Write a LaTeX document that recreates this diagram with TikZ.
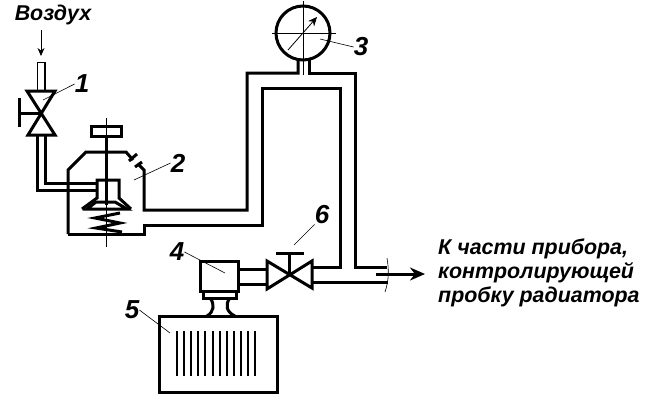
\documentclass[tikz,border=0pt]{standalone}
\usepackage{fontspec}
\setmainfont{Liberation Sans}
\usetikzlibrary{arrows.meta}
\tikzset{
	pipe/.style={line width=3pt, line join=miter},
	thin line/.style={line width=.6pt},
	leader/.style={line width=.6pt},
	lbl/.style={font=\fontsize{21.4}{23.7}\selectfont\bfseries\itshape, inner sep=0pt, align=left},
	num/.style={font=\fontsize{26}{28}\selectfont\bfseries\itshape, inner sep=0pt}
}
\begin{document}
\begin{tikzpicture}[x=1pt, y=-1pt, >=stealth, line join=round]
	\useasboundingbox (0,0) rectangle (659,416);
	% text
	\node[lbl] (air) at (53,15) {Воздух};
	\node[lbl, anchor=north west] (out) at (438,239) {К части прибора,\\контролирующей\\пробку радиатора};
	\node[num] (n1) at (82,84) {1};
	\node[num] (n2) at (178,163) {2};
	\node[num] (n3) at (361,47) {3};
	\node[num] (n4) at (177,252) {4};
	\node[num] (n5) at (132,310) {5};
	\node[num] (n6) at (322,215) {6};
	% leaders
	\coordinate (p1) at (43,100);
	\coordinate (p2) at (134,180);
	\coordinate (p3) at (320,39);
	\coordinate (p4) at (225,273);
	\coordinate (p5) at (170,333);
	\coordinate (p6) at (294,245);
	\draw[leader] (p1)--(n1.west);
	\draw[leader] (p2)--(n2.west);
	\draw[leader] (p3)--(n3.west);
	\draw[leader] (p4)--(n4.east);
	\draw[leader] (p5)--(n5.east);
	\draw[leader] (p6)--(n6.south west);
	% air inlet and valve 1
	\coordinate (airtop) at (41,30);
	\coordinate (airend) at (41,56);
	\draw[-{Stealth[length=8pt,width=7pt]}, line width=.8pt] (airtop)--(airend);
	\draw[line width=1.8pt, line join=miter] (37.5,91)--(37.5,62.5)--(45,62.5)--(45,91);
	\draw[pipe] (27,91)--(55,91)--(28,135)--(55,135)--cycle;
	\draw[pipe] (19,113)--(41,113);
	\draw[pipe] (19,98)--(19,127);
	% pipes out of valve 1
	\draw[pipe] (37.5,135)--(37.5,190)--(97,190);
	\draw[pipe] (45,135)--(45,183)--(97,183);
	\draw[pipe] (82,209)--(97,198)--(97,180)--(119,180)--(119,198)--(131,209);
	\draw[pipe] (87,209)--(96,202)--(115,202)--(127,209)--cycle;
	% body of valve 2
	\draw[pipe] (68,234)--(68,170)--(86,152)--(126,152)--(133,160);
	\draw[pipe] (138,164)--(144,170)--(144,210)--(247,210)--(247,73)--(298,73)--(298,60);
	\draw[pipe] (68,234)--(144,234)--(144,225)--(262,225)--(262,88)--(340,88)--(340,267)--(312,267);
	\draw[pipe] (129,161)--(137,154) (135,167)--(142,162);
	% spindle and spring
	\draw[thin line] (106,118)--(106,247);
	\draw[pipe] (106,136)--(106,205);
	\draw[pipe] (91,126) rectangle (121,136);
	\draw[pipe] (120,213)--(95,218)--(120,223)--(96,228)--(122,232);
	% gauge 3
	\draw[pipe] (303,33) circle (27);
	\draw[thin line] (272,33)--(336,33) (303,1)--(303,75);
	\draw[-{Stealth[length=9pt,width=8pt]}, line width=.8pt] (288,50)--(317,17);
	\draw[pipe] (309,60)--(309,73)--(355,73)--(355,267)--(387,267);
	% valve 6
	\draw[pipe] (267,261)--(312,288)--(312,261)--(267,289)--cycle;
	\draw[pipe] (289,274)--(289,253);
	\draw[pipe] (276,253)--(304,253);
	\draw[pipe] (312,282)--(388,282);
	% outlet
	\draw[thin line] (387,258) .. controls (389,270) and (389,280) .. (385,292);
	\draw[-{Stealth[length=15pt,width=13pt]}, line width=3pt] (376,274)--(425,274);
	% device 4
	\draw[pipe] (200,261) rectangle (238,291);
	\draw[pipe] (203,291) rectangle (236,298);
	\draw[pipe] (238,269)--(267,269) (238,284)--(267,284);
	\draw[pipe] (210,298) .. controls (215,304) and (214,312) .. (207,316);
	\draw[pipe] (230,298) .. controls (225,304) and (226,312) .. (235,316);
	% radiator 5
	\draw[pipe] (159,316) rectangle (277,392);
	\foreach \x in {0,...,11}\draw[line width=2pt] (177+\x*7.1,331)--(177+\x*7.1,376);
\end{tikzpicture}
\end{document}
